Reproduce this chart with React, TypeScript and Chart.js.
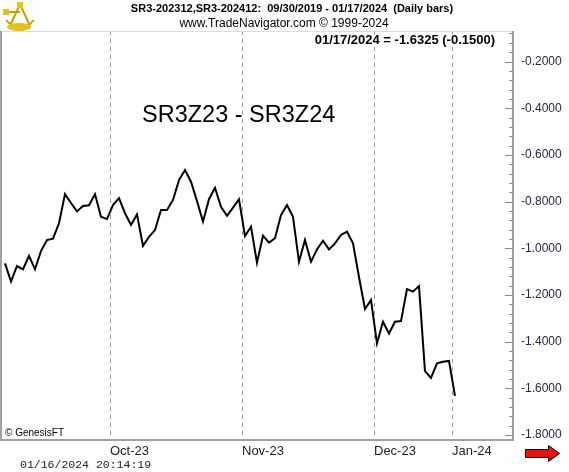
import React, { useEffect, useRef } from "react";
import { Chart, registerables } from "chart.js";

Chart.register(...registerables);

// Spread SR3Z23 - SR3Z24, daily closes (one per trading bar)
const spreadValues: number[] = [
  -1.065, -1.143, -1.076, -1.09, -1.033, -1.09, -1.012, -0.965, -0.959, -0.893,
  -0.768, -0.806, -0.842, -0.819, -0.816, -0.768, -0.865, -0.875, -0.815, -0.785,
  -0.85, -0.9, -0.855, -0.99, -0.951, -0.922, -0.836, -0.836, -0.793, -0.708,
  -0.665, -0.715, -0.798, -0.886, -0.79, -0.741, -0.822, -0.861, -0.826, -0.79,
  -0.948, -0.908, -1.062, -0.946, -0.976, -0.957, -0.858, -0.815, -0.865, -1.058,
  -0.965, -1.058, -1.005, -0.968, -1.005, -0.979, -0.943, -0.929, -0.979, -1.123,
  -1.26, -1.222, -1.407, -1.315, -1.365, -1.315, -1.312, -1.175, -1.186, -1.162,
  -1.526, -1.555, -1.493, -1.486, -1.4825, -1.6325,
];

// Month boundaries (bar index positions) and labels
const monthLabels: string[] = ["Oct-23", "Nov-23", "Dec-23", "Jan-24"];
const monthPositions: number[] = [17.5, 39.5, 61.5, 74.5];

// Right axis tick labels
const yTickValues: number[] = [-0.2, -0.4, -0.6, -0.8, -1.0, -1.2, -1.4, -1.6, -1.8];

const titleLine = "SR3-202312,SR3-202412:  09/30/2019 - 01/17/2024  (Daily bars)";
const siteLine = "www.TradeNavigator.com \u00A9 1999-2024";
const lastLine = "01/17/2024 = -1.6325 (-0.1500)";
const chartName = "SR3Z23 - SR3Z24";
const copyright = "\u00A9 GenesisFT";
const stamp = "01/16/2024 20:14:19";

const X_MIN = -0.667;
const X_MAX = 84.67;
const Y_MIN = -1.8214;
const Y_MAX = -0.0693;

const decorPlugin = {
  id: "decor",
  beforeDatasetsDraw(chart: any) {
    const { ctx, chartArea, scales } = chart;
    ctx.save();
    ctx.strokeStyle = "#9a9a9a";
    ctx.lineWidth = 1;
    ctx.setLineDash([4, 4]);
    monthPositions.forEach((p) => {
      const x = Math.round(scales.x.getPixelForValue(p)) + 0.5;
      ctx.beginPath();
      ctx.moveTo(x, chartArea.top);
      ctx.lineTo(x, chartArea.bottom);
      ctx.stroke();
    });
    ctx.restore();
  },
  afterDraw(chart: any) {
    const { ctx, chartArea, scales } = chart;
    const { left, right, top, bottom } = chartArea;
    ctx.save();
    // frame
    ctx.strokeStyle = "#dcdcdc";
    ctx.lineWidth = 1;
    ctx.beginPath();
    ctx.moveTo(left, top + 0.5);
    ctx.lineTo(right, top + 0.5);
    ctx.stroke();
    ctx.strokeStyle = "#a0a0a0";
    ctx.lineWidth = 2;
    ctx.beginPath();
    ctx.moveTo(left, top);
    ctx.lineTo(left, bottom);
    ctx.lineTo(right, bottom);
    ctx.lineTo(right, top);
    ctx.stroke();
    // inward ticks on right axis
    ctx.lineWidth = 1;
    ctx.strokeStyle = "#8a8a8a";
    for (let k = 0; k <= 45; k++) {
      const v = -1.8 + k * 0.04;
      if (v > Y_MAX) break;
      const y = Math.round(scales.y.getPixelForValue(v)) + 0.5;
      const major = k % 5 === 0;
      ctx.beginPath();
      ctx.moveTo(right - (major ? 8 : 4), y);
      ctx.lineTo(right, y);
      ctx.stroke();
    }
    // month labels
    ctx.fillStyle = "#1a1a2e";
    ctx.font = "13px Arial, 'Liberation Sans', sans-serif";
    ctx.textBaseline = "middle";
    ctx.textAlign = "left";
    monthLabels.forEach((m, i) => {
      const x = Math.round(scales.x.getPixelForValue(monthPositions[i]));
      ctx.fillText(m, x, 451);
    });
    // headers
    ctx.fillStyle = "#000";
    ctx.textAlign = "center";
    ctx.font = "bold 11px Arial, 'Liberation Sans', sans-serif";
    ctx.fillText(titleLine, 292, 9);
    ctx.font = "12px Arial, 'Liberation Sans', sans-serif";
    ctx.fillText(siteLine, 284, 24);
    ctx.textAlign = "right";
    ctx.font = "bold 13px Arial, 'Liberation Sans', sans-serif";
    ctx.fillText(lastLine, 495, 40);
    ctx.textAlign = "left";
    ctx.font = "23.5px Arial, 'Liberation Sans', sans-serif";
    ctx.fillText(chartName, 142, 116);
    ctx.font = "10px Arial, 'Liberation Sans', sans-serif";
    ctx.fillText(copyright, 5, 433);
    ctx.font = "11.5px 'Liberation Mono', 'Courier New', monospace";
    ctx.fillStyle = "#222";
    ctx.fillText(stamp, 20, 465);
    // red arrow
    ctx.fillStyle = "#ee1111";
    ctx.strokeStyle = "#000";
    ctx.lineWidth = 1;
    ctx.beginPath();
    ctx.moveTo(525.5, 449.5);
    ctx.lineTo(548.5, 449.5);
    ctx.lineTo(548.5, 445.5);
    ctx.lineTo(559.5, 453.5);
    ctx.lineTo(548.5, 461.5);
    ctx.lineTo(548.5, 457.5);
    ctx.lineTo(525.5, 457.5);
    ctx.closePath();
    ctx.fill();
    ctx.stroke();
    // logo (simplified sextant)
    ctx.strokeStyle = "#c9a000";
    ctx.fillStyle = "#e8c21a";
    ctx.lineWidth = 2;
    ctx.beginPath();
    ctx.arc(20, 10, 17, Math.PI * 0.2, Math.PI * 0.8);
    ctx.stroke();
    ctx.beginPath();
    ctx.moveTo(20, 4);
    ctx.lineTo(10, 26);
    ctx.moveTo(20, 4);
    ctx.lineTo(30, 26);
    ctx.moveTo(5, 12);
    ctx.lineTo(20, 12);
    ctx.stroke();
    ctx.fillRect(17, 2, 6, 6);
    ctx.fillRect(3, 9, 6, 6);
    ctx.beginPath();
    ctx.ellipse(19, 27, 12, 4, 0, 0, Math.PI * 2);
    ctx.fill();
    ctx.restore();
  },
};

export default function App() {
  const canvasRef = useRef<HTMLCanvasElement | null>(null);

  useEffect(() => {
    document.body.style.margin = "0";
    const canvas = canvasRef.current;
    if (!canvas) return;
    const chart = new Chart(canvas, {
      type: "line",
      data: {
        labels: spreadValues.map((_, i) => i),
        datasets: [
          {
            data: spreadValues.map((v, i) => ({ x: i, y: v })),
            borderColor: "#000",
            borderWidth: 2,
            pointRadius: 0,
            tension: 0,
            fill: false,
          },
        ],
      },
      options: {
        animation: false,
        responsive: false,
        devicePixelRatio: 1,
        layout: { padding: { top: 31, left: 1, right: 0, bottom: 32 } },
        plugins: {
          legend: { display: false },
          tooltip: { enabled: false },
          title: { display: false },
        },
        scales: {
          x: {
            type: "linear",
            min: X_MIN,
            max: X_MAX,
            display: false,
          },
          y: {
            type: "linear",
            position: "right",
            min: Y_MIN,
            max: Y_MAX,
            afterBuildTicks: (scale: any) => {
              scale.ticks = yTickValues.map((v) => ({ value: v }));
            },
            afterFit: (scale: any) => {
              scale.width = 56;
            },
            grid: { display: false, drawTicks: false },
            border: { display: false },
            ticks: {
              padding: 8,
              color: "#26264a",
              font: { family: "Arial, 'Liberation Sans', sans-serif", size: 12 },
              callback: (v: any) => Number(v).toFixed(4),
            },
          },
        },
      },
      plugins: [decorPlugin],
    });
    return () => chart.destroy();
  }, []);

  return (
    <div style={{ position: "fixed", left: 0, top: 0, width: 569, height: 472, background: "#fff" }}>
      <canvas ref={canvasRef} width={569} height={472} style={{ display: "block" }} />
    </div>
  );
}
